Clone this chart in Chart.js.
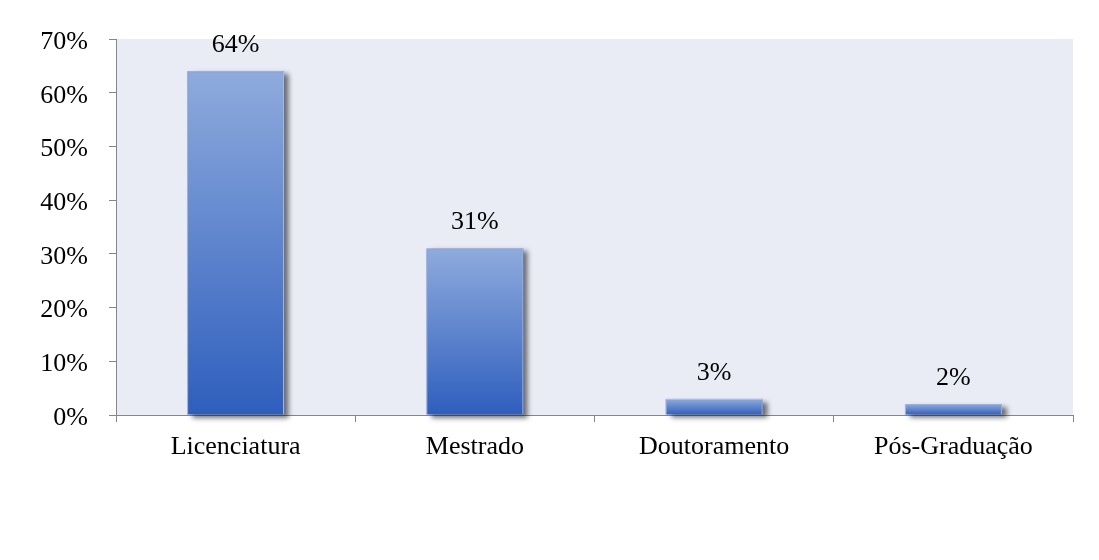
<!DOCTYPE html>
<html>
<head>
<meta charset="utf-8">
<script src="https://cdn.jsdelivr.net/npm/chart.js"></script>
<style>
  html, body { margin: 0; padding: 0; background: #ffffff; }
  #wrap { width: 1099px; height: 560px; }
</style>
</head>
<body>
<div id="wrap"><canvas id="grau-chart" width="1099" height="560"></canvas></div>
<script>
// Habilitações académicas (percentagem)
const categorias = ['Licenciatura', 'Mestrado', 'Doutoramento', 'Pós-Graduação'];
const percentagens = [64, 31, 3, 2];
const ticksY = [0, 10, 20, 30, 40, 50, 60, 70];

const FONT = "'Liberation Serif', 'Times New Roman', serif";
const AXIS_GREY = '#868686';

// Plot area background
const plotBackground = {
  id: 'plotBackground',
  beforeDraw(chart) {
    const { ctx, chartArea: a } = chart;
    ctx.save();
    ctx.fillStyle = '#e9ebf5';
    ctx.fillRect(a.left, a.top, a.right - a.left, a.bottom - a.top);
    ctx.restore();
  }
};

// Soft shadow under each bar, then value labels on top
const barExtras = {
  id: 'barExtras',
  beforeDatasetsDraw(chart) {
    const ctx = chart.ctx;
    ctx.save();
    ctx.shadowColor = 'rgba(0, 0, 0, 0.55)';
    ctx.shadowBlur = 5;
    ctx.shadowOffsetX = 5;
    ctx.shadowOffsetY = 3;
    ctx.fillStyle = '#6f8fcf';
    chart.getDatasetMeta(0).data.forEach(bar => {
      const p = bar.getProps(['x', 'y', 'base', 'width'], true);
      ctx.fillRect(p.x - p.width / 2, p.y, p.width, p.base - p.y);
    });
    ctx.restore();
  },
  afterDatasetsDraw(chart) {
    const ctx = chart.ctx;
    ctx.save();
    ctx.font = '26px ' + FONT;
    ctx.fillStyle = '#000000';
    ctx.textAlign = 'center';
    ctx.textBaseline = 'alphabetic';
    chart.getDatasetMeta(0).data.forEach((bar, i) => {
      ctx.fillText(percentagens[i] + '%', bar.x, bar.y - 19);
    });
    ctx.restore();
  }
};

// each bar gets its own light-to-dark gradient
function barGradient(context) {
  const chart = context.chart;
  const yScale = chart.scales.y;
  if (!yScale || context.type !== 'data') return '#4f7ccc';
  const top = yScale.getPixelForValue(context.raw);
  const base = yScale.getPixelForValue(0);
  if (!isFinite(top) || !isFinite(base) || top === base) return '#4f7ccc';
  const g = chart.ctx.createLinearGradient(0, top, 0, base);
  g.addColorStop(0, '#8fabdd');
  g.addColorStop(1, '#2e5ebd');
  return g;
}

new Chart(document.getElementById('grau-chart').getContext('2d'), {
  type: 'bar',
  data: {
    labels: categorias,
    datasets: [{
      data: percentagens,
      backgroundColor: barGradient,
      borderColor: '#a9bde6',
      borderWidth: 1,
      categoryPercentage: 0.405,
      barPercentage: 1.0
    }]
  },
  options: {
    responsive: false,
    animation: false,
    events: [],
    layout: { padding: { left: 0, top: 39, right: 26, bottom: 0 } },
    plugins: {
      legend: { display: false },
      tooltip: { enabled: false }
    },
    scales: {
      x: {
        grid: {
          offset: true,
          drawOnChartArea: false,
          drawTicks: true,
          tickLength: 7,
          color: AXIS_GREY
        },
        border: { display: true, color: AXIS_GREY, width: 1 },
        ticks: {
          color: '#000000',
          padding: 10,
          maxRotation: 0,
          font: { family: FONT, size: 26 }
        },
        afterFit(scale) { scale.height = 145; }
      },
      y: {
        min: 0,
        max: 70,
        afterBuildTicks(scale) {
          scale.ticks = ticksY.map(v => ({ value: v }));
        },
        grid: {
          drawOnChartArea: false,
          drawTicks: true,
          tickLength: 7,
          color: AXIS_GREY
        },
        border: { display: true, color: AXIS_GREY, width: 1 },
        ticks: {
          color: '#000000',
          padding: 21,
          labelOffset: 3,
          callback: v => v + '%',
          font: { family: FONT, size: 26 }
        },
        afterFit(scale) { scale.width = 116; }
      }
    }
  },
  plugins: [plotBackground, barExtras]
});
</script>
</body>
</html>
